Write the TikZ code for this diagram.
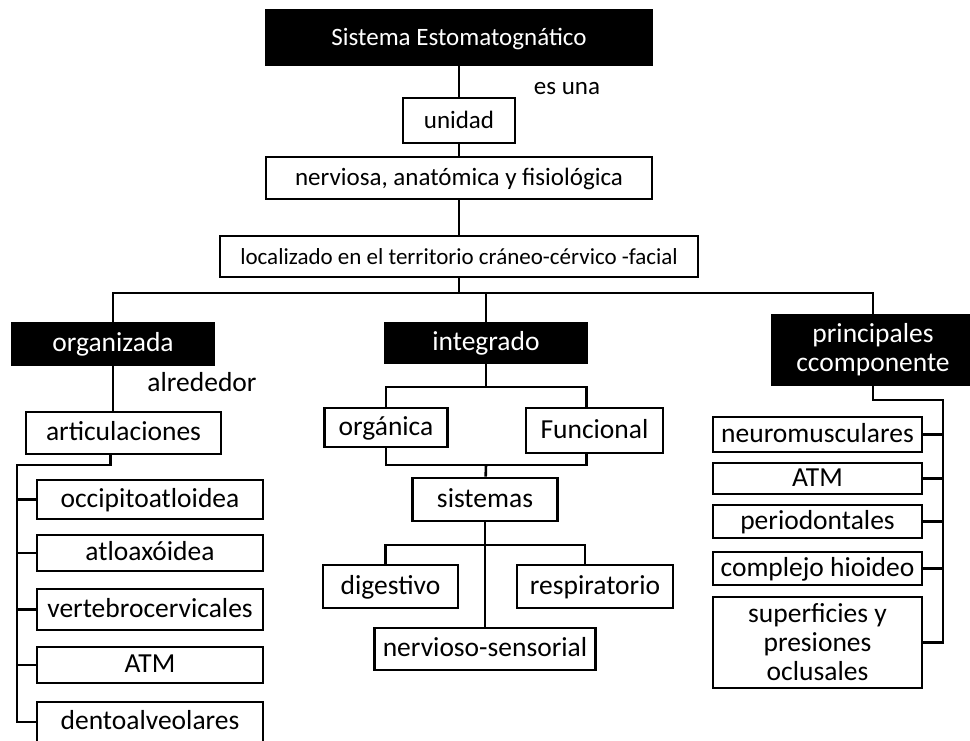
\documentclass[tikz,border=0pt]{standalone}
\usepackage{fontspec}
\setmainfont{Carlito}
\begin{document}
\begin{tikzpicture}[x=1pt,y=-1pt,line width=2.6pt,
	box/.style={draw, fill=white, inner sep=0pt, text height=17pt, text depth=2pt, font=\fontsize{27.5}{29}\selectfont},
	tall/.style={draw, fill=white, inner sep=0pt, align=center, font=\fontsize{27.5}{29}\selectfont},
	dark/.style={box, fill=black, text=white},
	small/.style={font=\fontsize{25}{27}\selectfont},
	word/.style={inner sep=0pt, font=\fontsize{27.5}{29}\selectfont}]
	\useasboundingbox (0,0) rectangle (970,740);
	% top column
	\node (sis)  at (459, 37.5)	[dark, small, minimum width=386, minimum height=55]	{Sistema Estomatognático};
	\node (uni)  at (459,120.5)	[box, small, minimum width=112, minimum height=45]	{unidad};
	\node (nerv) at (459,178)	[box, small, minimum width=386, minimum height=42]	{nerviosa, anatómica y fisiológica};
	\node (loc)  at (459,256.5)	[box, minimum width=478, minimum height=41, font=\fontsize{23}{25}\selectfont]	{localizado en el territorio cráneo-cérvico -facial};
	\node (esuna) at (567,89)	[word, small]	{es una};
	% three branches
	\node (org)  at (113,344)	[dark, minimum width=202, minimum height=42]	{organizada};
	\node (int)  at (486,343)	[dark, minimum width=202, minimum height=40]	{integrado};
	\node (pri)  at (873,350)	[tall, fill=black, text=white, minimum width=202, minimum height=70]	{principales\\ccomponente};
	\node (alr)  at (202,382)	[word]	{alrededor};
	% left
	\node (art)  at (123.5,433)	[box, minimum width=195, minimum height=42]	{articulaciones};
	\node (occ)  at (150,499.5)	[box, minimum width=226, minimum height=39]	{occipitoatloidea};
	\node (atl)  at (150,553)	[box, minimum width=226, minimum height=36]	{atloaxóidea};
	\node (ver)  at (150,609.5)	[box, minimum width=226, minimum height=41]	{vertebrocervicales};
	\node (atma) at (150,665)	[box, minimum width=226, minimum height=36]	{ATM};
	\node (den)  at (150,722)	[box, minimum width=226, minimum height=40]	{dentoalveolares};
	% middle
	\node (orga) at (386,427.5)	[box, minimum width=123, minimum height=39]	{orgánica};
	\node (fun)  at (594.5,430.5)	[box, minimum width=137, minimum height=45]	{Funcional};
	\node (sist) at (485,499.5)	[box, minimum width=145, minimum height=43]	{sistemas};
	\node (dig)  at (390.5,586.5)	[box, minimum width=135, minimum height=43]	{digestivo};
	\node (res)  at (595,586.5)	[box, minimum width=156, minimum height=43]	{respiratorio};
	\node (ner)  at (485,649)	[box, minimum width=221, minimum height=42]	{nervioso-sensorial};
	% right
	\node (neu)  at (817.5,434.5)	[box, minimum width=209, minimum height=35]	{neuromusculares};
	\node (atmb) at (817.5,478.5)	[box, minimum width=209, minimum height=31]	{ATM};
	\node (per)  at (817.5,521.5)	[box, minimum width=209, minimum height=33]	{periodontales};
	\node (com)  at (817.5,568.5)	[box, minimum width=209, minimum height=33]	{complejo hioideo};
	\node (sup)  at (817.5,642.5)	[tall, minimum width=209, minimum height=91]	{superficies y\\presiones\\oclusales};
	% junctions
	\coordinate (bar)  at (459,293);
	\coordinate (artj) at (17,465);
	\coordinate (intj) at (486,387);
	\coordinate (sisj) at (486,465);
	\coordinate (sysj) at (485,545);
	\coordinate (prij) at (943,400);
	% connectors
	\draw (sis) -- (uni);
	\draw (uni) -- (nerv);
	\draw (nerv) -- (loc);
	\draw (loc) -- (bar);
	\draw (org) |- (bar) -| (pri);
	\draw (int) -- (int |- bar);
	\draw (org) -- (org |- art.north);
	\draw ([xshift=-13pt]art.south) |- (artj) |- (den);
	\foreach \n in {occ,atl,ver,atma}
		\draw (artj |- \n) -- (\n);
	\draw (int) -- (intj);
	\draw (orga) |- (intj) -| ([xshift=-8pt]fun.north);
	\draw (orga) |- (sisj) -| ([xshift=-8pt]fun.south);
	\draw (sisj) -- (sist);
	\draw (sist) -- (ner);
	\draw ([xshift=-5pt]dig.north) |- (sysj) -| ([xshift=-10pt]res.north);
	\draw (pri) |- (prij) |- (sup);
	\foreach \n in {neu,atmb,per,com}
		\draw (prij |- \n) -- (\n);
\end{tikzpicture}
\end{document}
